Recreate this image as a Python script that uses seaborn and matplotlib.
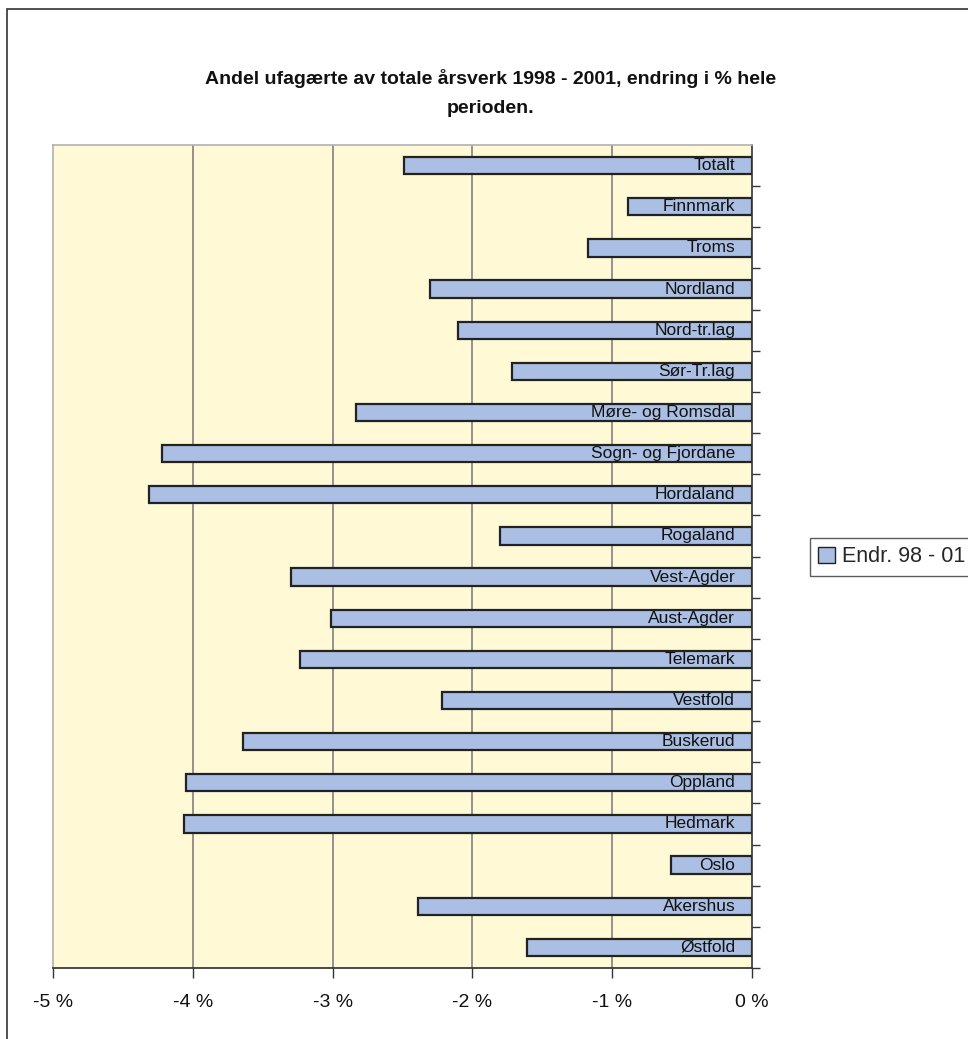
import matplotlib
matplotlib.use("Agg")
import matplotlib.pyplot as plt
from matplotlib.patches import Rectangle
from matplotlib.ticker import FixedLocator, FuncFormatter
import seaborn as sns
import pandas as pd
import numpy as np

# Regions, listed top to bottom as drawn
regions = ["Totalt", "Finnmark", "Troms", "Nordland", "Nord-tr.lag", "Sør-Tr.lag",
           "Møre- og Romsdal", "Sogn- og Fjordane", "Hordaland", "Rogaland",
           "Vest-Agder", "Aust-Agder", "Telemark", "Vestfold", "Buskerud",
           "Oppland", "Hedmark", "Oslo", "Akershus", "Østfold"]
# Change in share of unskilled man-years 1998-2001, percent
change = [-2.49, -0.89, -1.17, -2.30, -2.10, -1.72, -2.83, -4.22, -4.31, -1.80,
          -3.30, -3.01, -3.23, -2.22, -3.64, -4.05, -4.06, -0.58, -2.39, -1.61]
x_ticks = [-5, -4, -3, -2, -1, 0]
series_name = "Endr. 98 - 01"
title = "Andel ufagærte av totale årsverk 1998 - 2001, endring i % hele\nperioden."

df = pd.DataFrame({"region": regions, "change": change, "series": series_name})

sns.set_theme(style="white")
plt.rcParams["font.family"] = ["Liberation Sans", "DejaVu Sans"]

fig = plt.figure(figsize=(9.68, 10.39), dpi=100)
ax = fig.add_axes([53 / 968, 1 - 968 / 1039, (752 - 53) / 968, (968 - 145) / 1039])
ax.set_facecolor("#FFF9D6")

sns.barplot(data=df, x="change", y="region", hue="series", orient="h",
            palette=["#AABFE3"], saturation=1, width=0.42, edgecolor="#222222",
            linewidth=1.6, legend=True, ax=ax)

ax.set_xlim(-5, 0)
ax.set_ylim(len(regions) - 0.5, -0.5)
ax.set_xlabel("")
ax.set_ylabel("")

# Vertical gridlines
for t in x_ticks[1:-1]:
    ax.axvline(t, color="#808080", lw=1.2, zorder=0)

ax.xaxis.set_major_locator(FixedLocator(x_ticks))
ax.xaxis.set_major_formatter(FuncFormatter(lambda v, p: f"{int(round(v))} %"))
ax.tick_params(axis="x", bottom=True, length=7, width=1, color="#333333",
               labelsize=14, pad=12, labelcolor="#111111")

# Category separators as ticks on the right-hand value axis
ax.yaxis.tick_right()
ax.set_yticks(np.arange(len(regions)) + 0.5)
ax.set_yticklabels([])
ax.tick_params(axis="y", right=True, left=False, length=6, width=1, color="#333333")

for side in ["top", "left"]:
    ax.spines[side].set_color("#B0B0B0")
    ax.spines[side].set_linewidth(1.2)
ax.spines["bottom"].set_color("#333333")
ax.spines["right"].set_color("#333333")
ax.spines["right"].set_linewidth(1.2)

# Region names inside the bars, right-aligned at zero
for i, name in enumerate(regions):
    ax.text(-0.12, i, name, ha="right", va="center", fontsize=12.5,
            color="#111111", zorder=5)

# Legend box
leg = ax.legend(loc="center left", bbox_to_anchor=(799 / 968, 1 - 557 / 1039),
                bbox_transform=fig.transFigure, frameon=True, fontsize=15.5,
                handlelength=0.75, handleheight=0.75, handletextpad=0.35,
                borderpad=0.4, fancybox=False)
leg.get_frame().set_edgecolor("#333333")
leg.get_frame().set_linewidth(1.0)
for h in leg.legend_handles:
    h.set_linewidth(1.0)

fig.text(491 / 968, 1 - 93 / 1039, title, ha="center", va="center",
         fontsize=14, fontweight="bold", color="#111111", linespacing=1.85)

# Outer chart border
fig.patches.append(Rectangle((7 / 968, -0.02), 1.2, 1 - 9 / 1039 + 0.02,
                             transform=fig.transFigure, fill=False,
                             edgecolor="#333333", linewidth=1.2, zorder=0))

fig.savefig("out.png", dpi=100, facecolor="white")
